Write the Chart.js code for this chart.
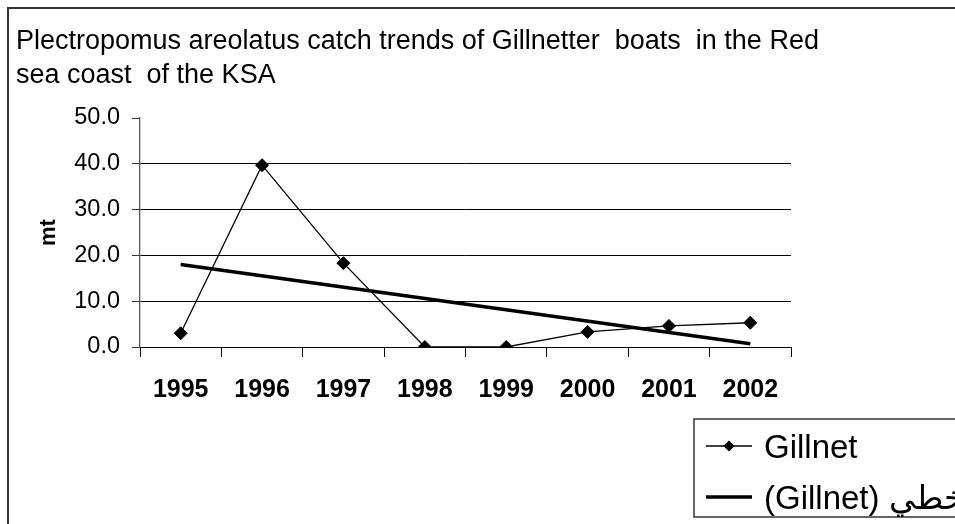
<!DOCTYPE html>
<html>
<head>
<meta charset="utf-8">
<script src="https://cdn.jsdelivr.net/npm/chart.js@4"></script>
<style>
  html, body { margin: 0; padding: 0; background: #fff; }
  #wrap { width: 955px; height: 524px; position: relative; overflow: hidden; }
</style>
</head>
<body>
<div id="wrap"><canvas id="c" width="955" height="524"></canvas></div>
<script>
// Catch of Plectropomus areolatus by gillnetter boats (metric tonnes)
const years = ['1995', '1996', '1997', '1998', '1999', '2000', '2001', '2002'];
const gillnet = [3.0, 39.7, 18.3, 0.0, 0.0, 3.3, 4.6, 5.3];
// Linear trend: end values only, joined straight across the gap
const gillnetTrend = [18.0, null, null, null, null, null, null, 0.7];
const yTicks = [0, 10, 20, 30, 40, 50];
const titleLines = [
  'Plectropomus areolatus catch trends of Gillnetter  boats  in the Red',
  'sea coast  of the KSA'
];
const seriesNames = ['Gillnet', '(Gillnet) خطي'];

const FONT = '"Liberation Sans", Arial, Helvetica, sans-serif';

// Outer frame and two-line title
const framePlugin = {
  id: 'frame',
  beforeDraw(chart) {
    const ctx = chart.ctx;
    ctx.save();
    ctx.fillStyle = '#fff';
    ctx.fillRect(0, 0, chart.width, chart.height);
    ctx.strokeStyle = '#333';
    ctx.lineWidth = 2;
    ctx.strokeRect(8, 8, chart.width + 20, chart.height + 20);
    ctx.fillStyle = '#000';
    ctx.font = '27px ' + FONT;
    ctx.textAlign = 'left';
    ctx.textBaseline = 'alphabetic';
    titleLines.forEach((t, i) => ctx.fillText(t, 16, 49 + i * 34));
    ctx.restore();
  }
};

// Boxed legend in the lower right corner
const boxLegendPlugin = {
  id: 'boxLegend',
  afterDraw(chart) {
    const ctx = chart.ctx;
    const bx = 694, by = 419, bh = 98;
    ctx.save();
    ctx.strokeStyle = '#333';
    ctx.lineWidth = 1.5;
    ctx.strokeRect(bx, by, chart.width, bh);
    const rows = [446, 497];
    chart.data.datasets.forEach((ds, i) => {
      const y = rows[i];
      ctx.strokeStyle = ds.borderColor;
      ctx.lineWidth = i === 0 ? 1.5 : 3.5;
      ctx.beginPath();
      ctx.moveTo(bx + 12, y);
      ctx.lineTo(bx + 58, y);
      ctx.stroke();
      if (ds.pointRadius > 0) {
        Chart.helpers.drawPoint(ctx, {
          pointStyle: ds.pointStyle, radius: 4.5, borderWidth: 1
        }, bx + 35, y);
        ctx.fillStyle = '#000';
        ctx.fill();
      }
      ctx.fillStyle = '#000';
      ctx.font = '33px ' + FONT;
      ctx.textAlign = 'left';
      ctx.textBaseline = 'alphabetic';
      ctx.fillText(ds.label, bx + 70, y + 12);
    });
    ctx.restore();
  }
};

new Chart(document.getElementById('c'), {
  type: 'line',
  data: {
    labels: years,
    datasets: [
      {
        label: seriesNames[0],
        data: gillnet,
        borderColor: '#000',
        backgroundColor: '#000',
        borderWidth: 1.3,
        pointStyle: 'rectRot',
        pointRadius: 6.5,
        pointBackgroundColor: '#000',
        pointBorderColor: '#000',
        pointBorderWidth: 1,
        tension: 0,
        fill: false
      },
      {
        label: seriesNames[1],
        data: gillnetTrend,
        borderColor: '#000',
        borderWidth: 3.5,
        pointRadius: 0,
        spanGaps: true,
        tension: 0,
        fill: false
      }
    ]
  },
  options: {
    responsive: false,
    animation: false,
    devicePixelRatio: 1,
    layout: { padding: { left: 20, top: 118, right: 164, bottom: 97 } },
    plugins: {
      legend: { display: false },
      title: { display: false },
      tooltip: { enabled: false }
    },
    scales: {
      x: {
        offset: true,
        grid: {
          offset: true,
          drawOnChartArea: false,
          drawTicks: true,
          tickLength: 10,
          color: '#000',
          lineWidth: 1
        },
        border: { display: true, color: '#000', width: 1 },
        ticks: {
          color: '#000',
          padding: 18,
          maxRotation: 0,
          autoSkip: false,
          font: { family: FONT, size: 25, weight: 'bold' }
        },
        afterFit(scale) { scale.height = 80; }
      },
      y: {
        min: yTicks[0],
        max: yTicks[yTicks.length - 1],
        afterBuildTicks(scale) { scale.ticks = yTicks.map(v => ({ value: v })); },
        grid: {
          drawTicks: true,
          tickLength: 8,
          color: c => (c.tick && c.tick.value === yTicks[yTicks.length - 1]) ? 'rgba(0,0,0,0)' : '#000',
          tickColor: '#333',
          lineWidth: 1
        },
        border: { display: true, color: '#555', width: 1.3 },
        ticks: {
          color: '#000',
          padding: 12,
          font: { family: FONT, size: 23.5 },
          callback: v => Number(v).toFixed(1)
        },
        title: {
          display: true,
          text: 'mt',
          color: '#000',
          padding: { top: 16, bottom: 0 },
          font: { family: FONT, size: 22, weight: 'bold' }
        },
        afterFit(scale) { scale.width = 120; }
      }
    }
  },
  plugins: [framePlugin, boxLegendPlugin]
});
</script>
</body>
</html>
